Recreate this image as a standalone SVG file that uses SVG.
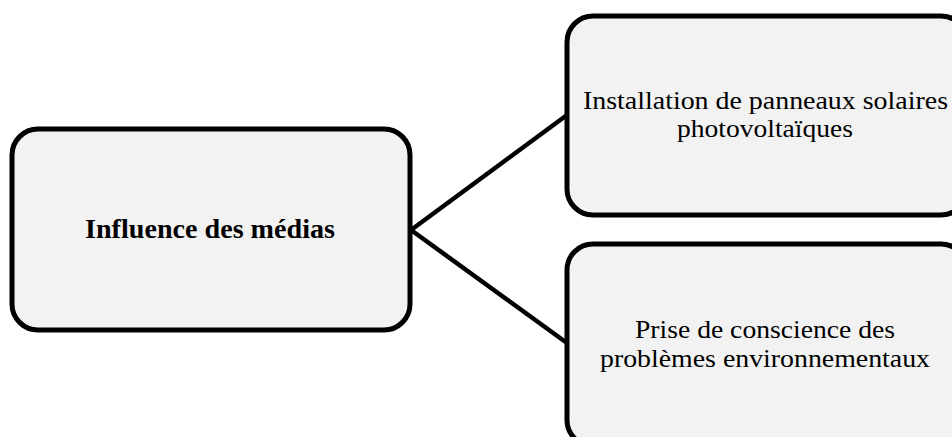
<svg xmlns="http://www.w3.org/2000/svg" width="952" height="437" viewBox="0 0 952 437">
<style>
.box{fill:#f2f2f2;stroke:#000;stroke-width:5}
.t{font-family:"Liberation Serif","Times New Roman",serif;font-size:25px;fill:#000;text-anchor:middle}
.b{font-weight:bold;font-size:28px}
.c{stroke:#000;stroke-width:4.5;fill:none}
</style>
<rect width="952" height="437" fill="#fff"/>
<g id="connectors">
<path class="c" d="M411,230 L567,115"/>
<path class="c" d="M411,230 L567,343"/>
</g>
<g id="node-media">
<rect class="box" x="12" y="129" width="398" height="201" rx="26"/>
<text class="t b" x="210" y="238" textLength="250" lengthAdjust="spacingAndGlyphs">Influence des médias</text>
</g>
<g id="node-solaire">
<rect class="box" x="567" y="16" width="400" height="199" rx="26"/>
<text class="t" x="765.5" y="109" textLength="365" lengthAdjust="spacingAndGlyphs">Installation de panneaux solaires</text>
<text class="t" x="765" y="137" textLength="176" lengthAdjust="spacingAndGlyphs">photovoltaïques</text>
</g>
<g id="node-conscience">
<rect class="box" x="567" y="244" width="400" height="202" rx="26"/>
<text class="t" x="765" y="338" textLength="260" lengthAdjust="spacingAndGlyphs">Prise de conscience des</text>
<text class="t" x="765" y="367" textLength="330" lengthAdjust="spacingAndGlyphs">problèmes environnementaux</text>
</g>
</svg>
